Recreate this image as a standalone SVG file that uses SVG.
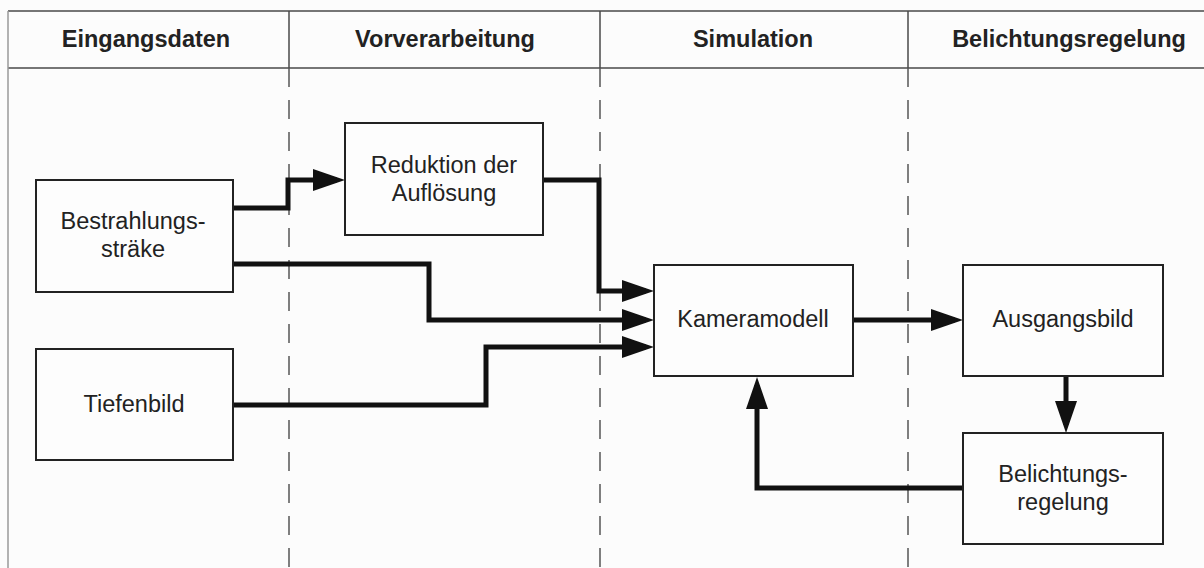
<svg xmlns="http://www.w3.org/2000/svg" width="1204" height="568" viewBox="0 0 1204 568">
  <defs>
    <style>
      .lane-line { stroke: #4a4a4a; stroke-width: 1.5; fill: none; }
      .lane-dash { stroke: #555; stroke-width: 1.5; fill: none; stroke-dasharray: 19 13; }
      .head { font-family: "Liberation Sans", Arial, sans-serif; font-weight: bold; font-size: 23.5px; fill: #222; text-anchor: middle; }
      .box { fill: #fdfdfd; stroke: #222; stroke-width: 2; }
      .label { font-family: "Liberation Sans", Arial, sans-serif; font-size: 23.5px; fill: #222; text-anchor: middle; }
      .flow { fill: none; stroke: #111; stroke-width: 5; stroke-linejoin: miter; marker-end: url(#arrow); }
    </style>
    <marker id="arrow" markerUnits="userSpaceOnUse" markerWidth="32" markerHeight="22" refX="24" refY="11" orient="auto">
      <path d="M0,0 L32,11 L0,22 Z" fill="#111"/>
    </marker>
  </defs>

  <rect width="1204" height="568" fill="#fcfcfc"/>

  <!-- swimlane header and separators -->
  <g id="lanes">
    <line class="lane-line" x1="8" y1="11" x2="1204" y2="11"/>
    <line class="lane-line" x1="8" y1="68" x2="1204" y2="68"/>
    <line x1="8" y1="11" x2="8" y2="568" stroke="#9a9a9a" stroke-width="1.5"/>
    <line class="lane-line" x1="289" y1="11" x2="289" y2="68"/>
    <line class="lane-line" x1="600" y1="11" x2="600" y2="68"/>
    <line class="lane-line" x1="908" y1="11" x2="908" y2="68"/>
    <line class="lane-dash" x1="289" y1="68" x2="289" y2="568"/>
    <line class="lane-dash" x1="600" y1="68" x2="600" y2="568"/>
    <line class="lane-dash" x1="908" y1="68" x2="908" y2="568"/>
    <text class="head" x="146" y="47">Eingangsdaten</text>
    <text class="head" x="445" y="47">Vorverarbeitung</text>
    <text class="head" x="753" y="47">Simulation</text>
    <text class="head" x="1069" y="47">Belichtungsregelung</text>
  </g>

  <!-- connectors -->
  <g id="connectors">
    <path class="flow" d="M233,208 H288 V180 H337"/>
    <path class="flow" d="M543,180 H599 V291 H646"/>
    <path class="flow" d="M233,264 H429 V320 H646"/>
    <path class="flow" d="M233,405 H486 V347 H646"/>
    <path class="flow" d="M853,320 H955"/>
    <path class="flow" d="M1066,376 V425"/>
    <path class="flow" d="M963,488 H757 V385"/>
  </g>

  <g id="bestrahlung">
    <rect class="box" x="36" y="180" width="197" height="112"/>
    <text class="label" x="133" y="229">Bestrahlungs-</text>
    <text class="label" x="133" y="257">sträke</text>
  </g>

  <g id="tiefenbild">
    <rect class="box" x="36" y="349" width="197" height="111"/>
    <text class="label" x="134" y="412">Tiefenbild</text>
  </g>

  <g id="reduktion">
    <rect class="box" x="345" y="123" width="198" height="112"/>
    <text class="label" x="444" y="173">Reduktion der</text>
    <text class="label" x="444" y="201">Auflösung</text>
  </g>

  <g id="kameramodell">
    <rect class="box" x="654" y="265" width="199" height="111"/>
    <text class="label" x="753" y="327">Kameramodell</text>
  </g>

  <g id="ausgangsbild">
    <rect class="box" x="963" y="265" width="200" height="111"/>
    <text class="label" x="1063" y="327">Ausgangsbild</text>
  </g>

  <g id="belichtungsregelung">
    <rect class="box" x="963" y="433" width="200" height="111"/>
    <text class="label" x="1063" y="482">Belichtungs-</text>
    <text class="label" x="1063" y="510">regelung</text>
  </g>
</svg>
